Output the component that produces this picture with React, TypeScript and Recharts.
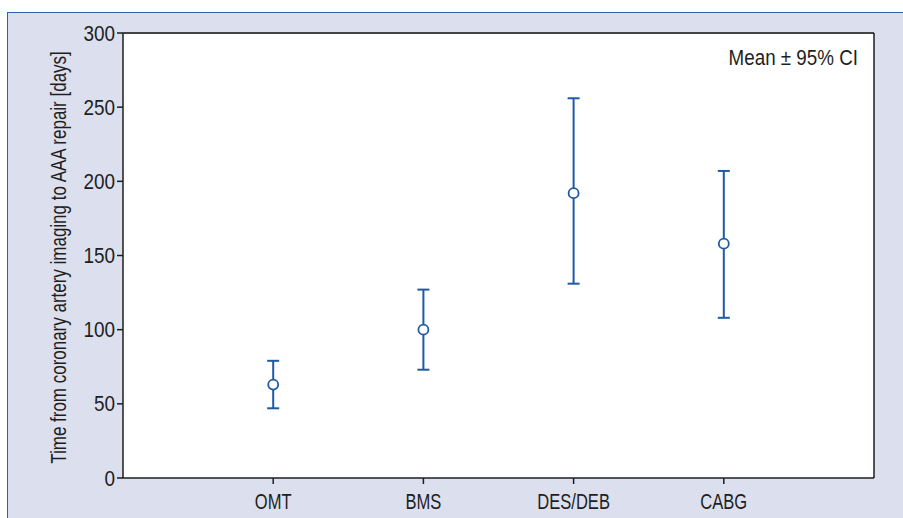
import {
  ScatterChart, Scatter, XAxis, YAxis, CartesianGrid, ErrorBar, ReferenceLine,
} from 'recharts'

const categories = ['OMT', 'BMS', 'DES/DEB', 'CABG']
const means = [63, 100, 192, 158]
const lowers = [47, 73, 131, 108]
const uppers = [79, 127, 256, 207]
const yTicks = [0, 50, 100, 150, 200, 250, 300]
const xTicks = [1, 2, 3, 4]

const BLUE = '#1f5ba3'
const INK = '#1e1e1e'
const FONT = '"Liberation Sans", Arial, sans-serif'

const data = categories.map((name, i) => ({
  x: i + 1,
  name,
  mean: means[i],
  err: [means[i] - lowers[i], uppers[i] - means[i]],
}))

// condensed text: Liberation Sans squeezed horizontally to look like Helvetica Condensed
function Cond({ x, y, sx, size, anchor, rotate = 0, children }: any) {
  return (
    <g transform={`translate(${x}, ${y}) rotate(${rotate}) scale(${sx}, 1)`}>
      <text x={0} y={0} textAnchor={anchor} fontSize={size} fill={INK} fontFamily={FONT}>
        {children}
      </text>
    </g>
  )
}

function YTick({ x, y, payload }: any) {
  return <Cond x={x} y={y + 7.5} sx={0.88} size={21.5} anchor="end">{payload.value}</Cond>
}

function XTick({ x, y, payload }: any) {
  return <Cond x={x} y={y + 25} sx={0.77} size={21.5} anchor="middle">{categories[payload.value - 1]}</Cond>
}

function YLabel({ viewBox }: any) {
  return (
    <Cond x={58} y={viewBox.y + viewBox.height / 2 + 2} rotate={-90} sx={0.79} size={21.5} anchor="middle">
      Time from coronary artery imaging to AAA repair [days]
    </Cond>
  )
}

function Dot(props: any) {
  const { cx, cy } = props
  return <circle cx={cx} cy={cy} r={5} fill="#fff" stroke={BLUE} strokeWidth={1.8} />
}

export default function App() {
  return (
    <div style={{
      position: 'absolute', left: 7, top: 12, width: 896, height: 506,
      background: '#dcdfed', borderTop: '1px solid #2a63a8', borderLeft: '1px solid #2a63a8',
      boxSizing: 'border-box',
    }}>
      <ScatterChart width={895} height={505} margin={{ top: 20, right: 29, bottom: 0, left: 0 }}>
        <CartesianGrid horizontal={false} vertical={false} fill="#ffffff" />
        <XAxis type="number" dataKey="x" domain={[0, 5]} ticks={xTicks} height={40}
          tick={<XTick />} tickSize={6} tickMargin={0}
          stroke={INK} strokeWidth={1.5} />
        <YAxis type="number" dataKey="mean" domain={[0, 300]} ticks={yTicks} width={115}
          tick={<YTick />} tickSize={6} tickMargin={2}
          stroke={INK} strokeWidth={1.5} label={<YLabel />} />
        <ReferenceLine y={300} stroke="#444" strokeWidth={2} />
        <ReferenceLine x={5} stroke={INK} strokeWidth={1.5} />
        <Scatter data={data} shape={<Dot />} isAnimationActive={false}>
          <ErrorBar dataKey="err" direction="y" width={6} stroke={BLUE} strokeWidth={2}
            isAnimationActive={false} />
        </Scatter>
        <Cond x={850} y={52} sx={0.855} size={22} anchor="end">Mean ± 95% CI</Cond>
      </ScatterChart>
    </div>
  )
}
